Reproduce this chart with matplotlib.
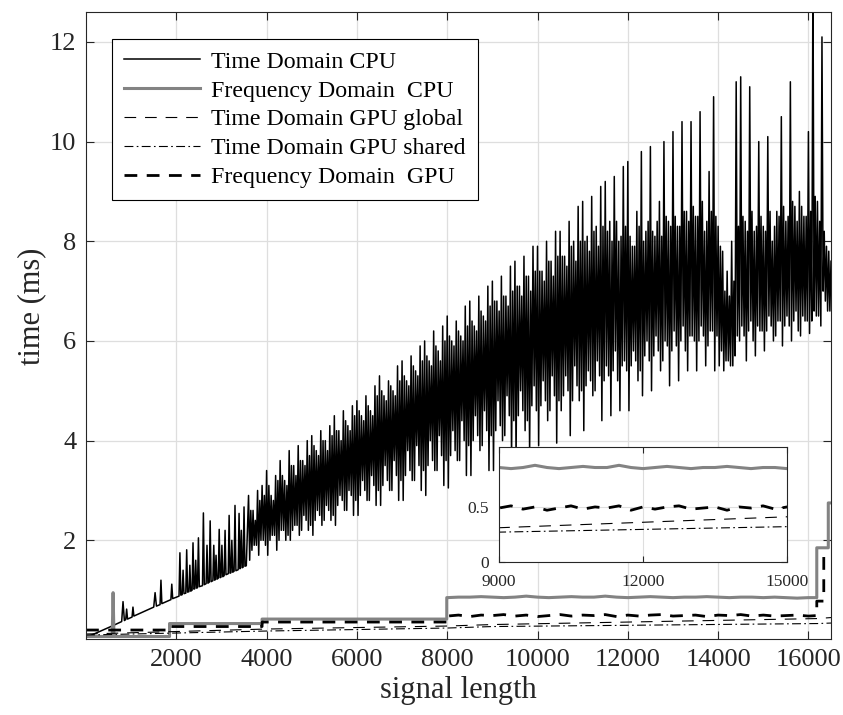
import numpy as np
import matplotlib
matplotlib.use("Agg")
import matplotlib.pyplot as plt

# ---------------- data (signal length, time in ms) ----------------
# Time Domain CPU: ramp part with isolated spikes
td_cpu_ramp_x = [1, 300, 600, 790, 820, 850, 880, 900, 920, 1020, 1040, 1060,
                 1500, 1530, 1560, 1640, 1660, 1680, 1880, 1900, 1920, 2060, 2080, 2100,
                 2130, 2150, 2170, 2210, 2230, 2250, 2280, 2300, 2320, 2350, 2370, 2390,
                 2410, 2430, 2450, 2470, 2490, 2510, 2580, 2600, 2620, 2660, 2680, 2700,
                 2730, 2750, 2770, 2810, 2830, 2850, 2860, 2880, 2900, 2930, 2950, 2970,
                 2990, 3010, 3030, 3060, 3080, 3100, 3150, 3170, 3190, 3210, 3230, 3250,
                 3280, 3300, 3320, 3370, 3390, 3410, 3420, 3440, 3460, 3480, 3500, 3520, 3550]
td_cpu_ramp_y = [0.05, 0.17, 0.29, 0.37, 0.77, 0.39, 0.41, 0.62, 0.42, 0.46, 0.66, 0.48,
                 0.66, 0.95, 0.68, 0.71, 1.20, 0.73, 0.81, 1.12, 0.83, 0.88, 1.75, 0.90,
                 0.91, 1.40, 0.93, 0.94, 1.81, 0.96, 0.97, 1.50, 0.98, 1.00, 1.95, 1.02,
                 1.03, 1.60, 1.04, 1.05, 2.05, 1.07, 1.09, 2.55, 1.11, 1.13, 1.90, 1.14,
                 1.16, 2.39, 1.17, 1.19, 1.90, 1.20, 1.21, 1.70, 1.22, 1.24, 2.22, 1.25,
                 1.26, 1.90, 1.27, 1.29, 2.20, 1.31, 1.33, 2.50, 1.34, 1.35, 2.00, 1.36,
                 1.38, 2.70, 1.39, 1.41, 2.54, 1.43, 1.44, 2.20, 1.45, 1.46, 2.67, 1.48, 1.49]

# Time Domain CPU: dense oscillating part, one cycle per 100 samples from 3600 to 16400
# peaks (at x), troughs (x+25), core high (x+50), core low (x+75)
td_cpu_peaks = [2.9, 2.6, 3.0, 3.1,
                3.4, 2.9, 3.3, 3.6, 3.2,
                3.8, 3.5, 3.9, 3.6, 4.0,
                4.1, 3.8, 4.2, 4.0, 4.3,
                4.5, 4.2, 4.6, 4.3, 4.7,
                4.8, 4.5, 4.9, 4.6, 5.1,
                5.3, 4.9, 5.2, 5.0, 5.5,
                5.6, 5.2, 5.7, 5.4, 5.9,
                6.0, 5.6, 6.2, 5.8, 6.3,
                6.5, 6.0, 6.4, 6.1, 6.7,
                6.8, 6.3, 6.9, 6.5, 7.1,
                7.2, 6.8, 7.3, 6.9, 7.5,
                7.6, 7.1, 7.7, 7.3, 7.9,
                7.9, 7.4, 8.0, 7.6, 8.2,
                8.2, 7.7, 8.4, 8.0, 8.7,
                8.8, 8.1, 8.9, 8.3, 9.1,
                9.2, 8.4, 9.3, 8.0, 9.5,
                9.6, 7.9, 8.6, 9.8, 8.2,
                9.9, 8.1, 8.8, 10.0, 8.4,
                10.2, 8.3, 10.4, 8.6, 10.4,
                8.5, 10.6, 8.2, 9.4, 10.9,
                8.3, 7.8, 7.4, 8.0, 11.2,
                11.3, 8.4, 11.1, 8.2, 10.0,
                8.3, 10.1, 8.0, 8.6, 10.5,
                8.4, 11.2, 8.7, 9.0, 8.5,
                10.2, 13.5, 8.8, 12.1, 7.9]
td_cpu_troughs = [1.6, 1.9, 1.7, 2.0,
                  1.7, 2.1, 1.8, 2.2, 2.0,
                  2.0, 2.3, 2.1, 2.5, 2.2,
                  2.1, 2.6, 2.3, 2.7, 2.4,
                  2.3, 2.9, 2.6, 3.0, 2.5,
                  2.5, 3.2, 2.8, 3.3, 2.7,
                  2.7, 3.5, 3.0, 3.6, 2.8,
                  2.8, 3.8, 3.2, 3.9, 3.0,
                  2.9, 4.0, 3.4, 4.1, 3.1,
                  3.05, 4.2, 3.6, 4.4, 3.3,
                  3.3, 4.5, 3.8, 4.6, 3.4,
                  3.4, 4.8, 4.0, 4.9, 3.6,
                  3.6, 5.0, 4.2, 3.75, 5.1,
                  3.9, 5.2, 4.4, 5.3, 3.95,
                  4.6, 5.3, 4.1, 5.5, 4.8,
                  4.2, 5.4, 4.9, 5.6, 4.4,
                  5.5, 4.5, 5.8, 4.6, 5.6,
                  4.6, 5.8, 5.2, 4.9, 6.0,
                  5.0, 6.1, 5.4, 6.0, 5.1,
                  6.2, 5.2, 6.3, 5.4, 6.1,
                  5.4, 6.3, 5.5, 6.2, 5.4,
                  5.5, 5.4, 5.6, 5.5, 6.1,
                  6.3, 5.6, 6.4, 5.7, 6.2,
                  5.8, 6.5, 6.0, 6.4, 5.9,
                  6.5, 6.0, 6.6, 6.1, 6.4,
                  6.15, 6.6, 6.5, 7.0, 6.6]
td_cpu_core_hi = [2.6, 2.4, 2.8, 2.9,
                  3.1, 2.8, 3.2, 3.3, 3.1,
                  3.5, 3.3, 3.6, 3.5, 3.7,
                  3.9, 3.7, 4.0, 3.8, 4.1,
                  4.2, 4.0, 4.4, 4.2, 4.5,
                  4.6, 4.4, 4.7, 4.5, 4.9,
                  5.0, 4.8, 5.1, 4.9, 5.2,
                  5.3, 5.1, 5.5, 5.3, 5.6,
                  5.7, 5.5, 5.9, 5.6, 6.0,
                  6.1, 5.9, 6.2, 6.0, 6.3,
                  6.4, 6.2, 6.6, 6.4, 6.7,
                  6.8, 6.6, 6.9, 6.7, 7.0,
                  7.1, 6.9, 7.3, 7.0, 7.4,
                  7.4, 7.2, 7.6, 7.3, 7.7,
                  7.7, 7.5, 7.9, 7.6, 8.0,
                  8.0, 7.8, 8.2, 7.9, 8.3,
                  8.2, 8.0, 8.4, 8.1, 8.3,
                  8.1, 7.9, 8.3, 8.0, 8.4,
                  8.2, 8.4, 8.1, 8.5, 8.3,
                  8.5, 8.3, 8.6, 8.4, 8.7,
                  8.5, 8.8, 8.4, 8.6, 8.5,
                  7.9, 7.0, 6.9, 7.2, 8.3,
                  8.5, 8.2, 8.6, 8.3, 8.5,
                  8.2, 8.6, 8.3, 8.5, 8.7,
                  8.5, 8.8, 8.4, 8.7, 8.5,
                  8.6, 8.9, 8.4, 8.2, 7.8]
td_cpu_core_lo = [1.8, 1.9, 2.0, 1.9,
                  2.0, 2.1, 2.0, 2.2, 2.1,
                  2.2, 2.3, 2.2, 2.4, 2.3,
                  2.4, 2.5, 2.4, 2.6, 2.5,
                  2.7, 2.8, 2.6, 2.9, 2.8,
                  2.9, 3.0, 2.8, 3.1, 3.0,
                  3.1, 3.2, 3.0, 3.3, 3.2,
                  3.3, 3.4, 3.2, 3.5, 3.4,
                  3.5, 3.6, 3.4, 3.7, 3.6,
                  3.7, 3.8, 3.6, 4.0, 3.9,
                  4.0, 4.1, 3.9, 4.2, 4.1,
                  4.2, 4.3, 4.1, 4.5, 4.4,
                  4.5, 4.6, 4.4, 4.7, 4.6,
                  4.7, 4.8, 4.6, 4.9, 4.8,
                  4.9, 5.0, 4.8, 5.1, 5.0,
                  5.1, 5.2, 5.0, 5.3, 5.2,
                  5.3, 5.4, 5.2, 5.5, 5.4,
                  5.5, 5.6, 5.4, 5.7, 5.6,
                  5.7, 5.8, 5.6, 5.9, 5.8,
                  5.9, 6.0, 5.8, 6.1, 6.0,
                  6.0, 6.1, 5.9, 6.2, 6.1,
                  5.8, 5.6, 5.5, 5.7, 6.0,
                  6.1, 6.2, 6.0, 6.3, 6.2,
                  6.2, 6.3, 6.1, 6.4, 6.3,
                  6.3, 6.4, 6.2, 6.5, 6.4,
                  6.4, 6.5, 6.3, 6.8, 6.6]
td_cpu_last = (16500, 7.6)

# Frequency Domain CPU (stepped)
fd_cpu_x = [1, 580, 600, 620, 1850, 1850, 3900, 3900, 7990, 7990]
fd_cpu_y = [0.07, 0.07, 0.95, 0.07, 0.07, 0.33, 0.33, 0.42, 0.42, 0.85]
fd_cpu_seg4 = [0.85, 0.86, 0.86, 0.87, 0.86, 0.85, 0.86, 0.88, 0.86, 0.85, 0.86,
               0.87, 0.86, 0.86, 0.88, 0.86, 0.85, 0.86, 0.87, 0.86, 0.85, 0.86,
               0.86, 0.87, 0.86, 0.85, 0.86, 0.86, 0.85, 0.86, 0.85, 0.84, 0.85]
fd_cpu_tail_x = [16185, 16185, 16440, 16440, 16500]
fd_cpu_tail_y = [0.85, 1.85, 1.85, 2.75, 2.75]

# Frequency Domain GPU (stepped)
fd_gpu_x = [1, 1850, 1850, 3900, 3900, 7990, 7990]
fd_gpu_y = [0.20, 0.20, 0.27, 0.27, 0.36, 0.36, 0.49]
fd_gpu_seg4 = [0.48, 0.50, 0.47, 0.50, 0.49, 0.51, 0.48, 0.50, 0.47, 0.49, 0.51,
               0.48, 0.50, 0.49, 0.51, 0.47, 0.50, 0.48, 0.50, 0.51, 0.48, 0.49,
               0.50, 0.47, 0.50, 0.49, 0.51, 0.48, 0.50, 0.48, 0.49, 0.50, 0.48]
fd_gpu_tail_x = [16185, 16185, 16340, 16340, 16500]
fd_gpu_tail_y = [0.49, 0.78, 0.78, 1.70, 1.70]

# Time Domain GPU global / shared
td_gpu_x = [1, 2000, 4000, 6000, 8000, 9000, 12000, 15000, 16200, 16500]
td_gpu_global = [0.12, 0.17, 0.22, 0.25, 0.28, 0.31, 0.36, 0.41, 0.43, 0.45]
td_gpu_shared = [0.10, 0.14, 0.18, 0.21, 0.24, 0.27, 0.295, 0.32, 0.33, 0.34]

labels = ["Time Domain CPU", "Frequency Domain  CPU", "Time Domain GPU global",
          "Time Domain GPU shared", "Frequency Domain  GPU"]

# ---------------- assemble series ----------------
cyc_x = np.arange(3600, 16401, 100)
n = len(cyc_x)
dense_x = np.empty(4 * n)
dense_y = np.empty(4 * n)
dense_x[0::4] = cyc_x
dense_x[1::4] = cyc_x + 25
dense_x[2::4] = cyc_x + 50
dense_x[3::4] = cyc_x + 75
dense_y[0::4] = td_cpu_peaks
dense_y[1::4] = td_cpu_troughs
dense_y[2::4] = td_cpu_core_hi
dense_y[3::4] = td_cpu_core_lo
td_x = np.concatenate([td_cpu_ramp_x, dense_x, [td_cpu_last[0]]])
td_y = np.concatenate([td_cpu_ramp_y, dense_y, [td_cpu_last[1]]])

seg4_x = np.arange(8000, 16001, 250)
fdc_x = np.concatenate([fd_cpu_x, seg4_x, fd_cpu_tail_x])
fdc_y = np.concatenate([fd_cpu_y, fd_cpu_seg4, fd_cpu_tail_y])
fdg_x = np.concatenate([fd_gpu_x, seg4_x, fd_gpu_tail_x])
fdg_y = np.concatenate([fd_gpu_y, fd_gpu_seg4, fd_gpu_tail_y])

# ---------------- styling ----------------
plt.rcParams["font.family"] = ["Liberation Serif", "DejaVu Serif"]

GRAY = "#838383"
SPINE = "#262626"

thin_dash = (0, (10.5, 8))
dash_dot = (0, (8, 3, 1.5, 3))
thick_dash = (0, (4.6, 3.4))

fig = plt.figure(figsize=(8.43, 7.15), dpi=100)
ax = fig.add_axes([86 / 843, 1 - 639 / 715, 745 / 843, 627 / 715])


def draw(a, with_td=True):
    if with_td:
        a.plot(td_x, td_y, color="black", lw=1.1, label=labels[0])
    a.plot(fdc_x, fdc_y, color=GRAY, lw=2.2, label=labels[1])
    a.plot(td_gpu_x, td_gpu_global, color="black", lw=0.8, linestyle=thin_dash, label=labels[2])
    a.plot(td_gpu_x, td_gpu_shared, color="black", lw=0.8, linestyle=dash_dot, label=labels[3])
    a.plot(fdg_x, fdg_y, color="black", lw=2.0, linestyle=thick_dash, label=labels[4])


draw(ax)
ax.set_xlim(0, 16500)
ax.set_ylim(0.02, 12.6)
ax.set_xticks(np.arange(2000, 16001, 2000))
ax.set_yticks(np.arange(2, 13, 2))
ax.grid(True, color="#dedede", lw=0.9)
ax.set_axisbelow(True)
ax.tick_params(direction="in", top=True, right=True, length=6, width=0.8,
               labelsize=19, colors=SPINE, labelcolor="#262626", pad=7)
for s in ax.spines.values():
    s.set_color(SPINE)
    s.set_linewidth(0.8)
ax.set_xlabel("signal length", fontsize=22, labelpad=4, color="#262626")
ax.set_ylabel("time (ms)", fontsize=22, color="#262626")
ax.yaxis.set_label_coords(-0.054, 0.53)

leg = ax.legend(loc="upper left", bbox_to_anchor=(0.035, 0.957), borderaxespad=0,
                fontsize=17.2, frameon=True, fancybox=False, framealpha=1,
                edgecolor="black", handlelength=3.2, handletextpad=0.45,
                labelspacing=0.3, borderpad=0.5)
leg.get_frame().set_linewidth(0.8)

# ---------------- inset ----------------
ax2 = fig.add_axes([499 / 843, 1 - 561.7 / 715, 288 / 843, 115 / 715])
draw(ax2, with_td=False)
ax2.set_xlim(9000, 15000)
ax2.set_ylim(0, 1.05)
ax2.set_xticks([9000, 12000, 15000])
ax2.set_yticks([0, 0.5])
ax2.set_yticklabels(["0", "0.5"])
ax2.grid(True, color="#dedede", lw=0.8)
ax2.set_axisbelow(True)
ax2.tick_params(direction="in", top=True, right=True, length=4, width=0.8,
                labelsize=12.5, colors=SPINE)
ax2.tick_params(axis="x", pad=9)
ax2.tick_params(axis="y", pad=7)
for s in ax2.spines.values():
    s.set_color(SPINE)
    s.set_linewidth(0.8)

fig.savefig("out.png", dpi=100)
